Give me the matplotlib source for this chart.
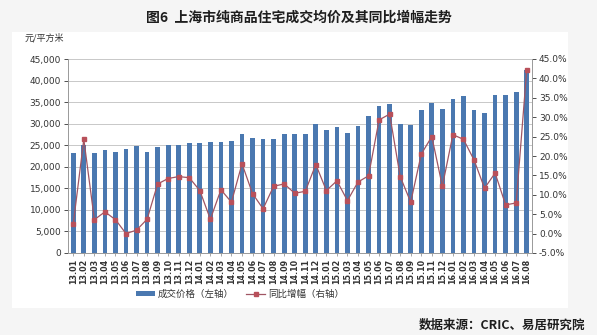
import matplotlib
matplotlib.use("Agg")
import matplotlib.pyplot as plt
from matplotlib.patches import Rectangle
from matplotlib.lines import Line2D
from matplotlib.ticker import FuncFormatter
import numpy as np

plt.rcParams['font.family'] = ['Noto Sans CJK SC', 'DejaVu Sans']

months = ["13.01", "13.02", "13.03", "13.04", "13.05", "13.06", "13.07", "13.08", "13.09", "13.10", "13.11", "13.12",
          "14.01", "14.02", "14.03", "14.04", "14.05", "14.06", "14.07", "14.08", "14.09", "14.10", "14.11", "14.12",
          "15.01", "15.02", "15.03", "15.04", "15.05", "15.06", "15.07", "15.08", "15.09", "15.10", "15.11", "15.12",
          "16.01", "16.02", "16.03", "16.04", "16.05", "16.06", "16.07", "16.08"]

price = [23100, 25000, 23200, 24000, 23400, 24100, 24800, 23500, 24500, 25000, 25000, 25400,
         25600, 25700, 25700, 25900, 27600, 26600, 26500, 26400, 27600, 27500, 27700, 30000,
         28600, 29300, 27900, 29400, 31800, 34200, 34600, 30000, 29600, 33100, 34800, 33500,
         35800, 36400, 33200, 32500, 36700, 36700, 37300, 42400]

yoy = [2.5, 24.3, 3.6, 5.6, 3.6, 0.0, 0.9, 3.7, 12.8, 14.2, 14.7, 14.4,
       11.1, 3.7, 11.3, 8.1, 18.0, 10.3, 6.4, 12.2, 12.8, 10.4, 10.9, 17.8,
       11.1, 13.6, 8.5, 13.3, 14.9, 29.3, 30.8, 14.7, 8.1, 20.5, 25.0, 12.2,
       25.5, 24.3, 19.0, 11.7, 15.6, 7.4, 7.9, 42.2]

bar_color = "#4a78b0"
line_color = "#a05563"
marker_color = "#b8505a"
text_color = "#333333"
grid_color = "#c8c8c8"

fig = plt.figure(figsize=(5.97, 3.35), dpi=100, facecolor="#f5f5f5")

# white panel behind the chart
fig.patches.append(Rectangle((12 / 597, 1 - 308 / 335), (568 - 12) / 597, (308 - 32) / 335,
                             transform=fig.transFigure, facecolor="white", edgecolor="none", zorder=-10))

ax = fig.add_axes([68 / 597, 1 - 253 / 335, (532 - 68) / 597, (253 - 59) / 335])
ax.set_facecolor("none")
x = np.arange(len(months))
ax.bar(x, price, width=0.44, color=bar_color, zorder=2)
ax.set_xlim(-0.5, len(months) - 0.5)
ax.set_ylim(0, 45000)
ax.set_yticks(np.arange(0, 45001, 5000))
ax.yaxis.set_major_formatter(FuncFormatter(lambda v, p: f"{int(v):,}"))
ax.grid(axis="y", color=grid_color, linewidth=0.7, zorder=0)
ax.set_axisbelow(True)
ax.set_xticks(x)
ax.set_xticklabels(months, rotation=90, fontsize=5.8, color=text_color, family=['DejaVu Sans'], fontweight='bold')
ax.tick_params(axis="y", labelsize=6.5, colors=text_color, length=3, width=0.6, pad=2)
ax.tick_params(axis="x", length=2, width=0.6, pad=2, colors="#999999", labelcolor=text_color)
for lab in ax.get_yticklabels():
    lab.set_family(['DejaVu Sans'])
for s in ["top", "right"]:
    ax.spines[s].set_visible(False)
for s in ["left", "bottom"]:
    ax.spines[s].set_color("#999999")
    ax.spines[s].set_linewidth(0.7)

ax2 = ax.twinx()
ax2.plot(x, yoy, color=line_color, linewidth=0.9, marker="s", markersize=2.6,
         markerfacecolor=marker_color, markeredgecolor=marker_color, zorder=3)
ax2.set_ylim(-5, 45)
ax2.set_yticks(np.arange(-5, 45.1, 5))
ax2.yaxis.set_major_formatter(FuncFormatter(lambda v, p: f"{v:.1f}%"))
ax2.tick_params(axis="y", labelsize=6.5, colors=text_color, length=3, width=0.6, pad=2)
for lab in ax2.get_yticklabels():
    lab.set_family(['DejaVu Sans'])
for s in ["top", "left", "bottom"]:
    ax2.spines[s].set_visible(False)
ax2.spines["right"].set_color("#999999")
ax2.spines["right"].set_linewidth(0.7)

fig.text(0.5, 1 - 18 / 335, "图6  上海市纯商品住宅成交均价及其同比增幅走势", ha="center", va="center",
         fontsize=10, fontweight="bold", color="#1e1e1e")
fig.text(44 / 597, 1 - 38 / 335, "元/平方米", ha="center", va="center", fontsize=6.5, color=text_color)

handles = [Rectangle((0, 0), 1, 1, facecolor=bar_color, edgecolor="none"),
           Line2D([0], [0], color=line_color, linewidth=0.9, marker="s", markersize=2.6,
                  markerfacecolor=marker_color, markeredgecolor=marker_color)]
fig.legend(handles, ["成交价格（左轴）", "同比增幅（右轴）"], loc="center", bbox_to_anchor=(240 / 597, 1 - 294 / 335),
           ncol=2, frameon=False, fontsize=6.8, handlelength=2.0, handleheight=0.5, columnspacing=1.3,
           handletextpad=0.3, labelcolor=text_color)

fig.text(585 / 597, 1 - 325 / 335, "数据来源：CRIC、易居研究院", ha="right", va="center",
         fontsize=9, fontweight="bold", color="#1e1e1e")

fig.savefig("out.png", dpi=100, facecolor=fig.get_facecolor())
